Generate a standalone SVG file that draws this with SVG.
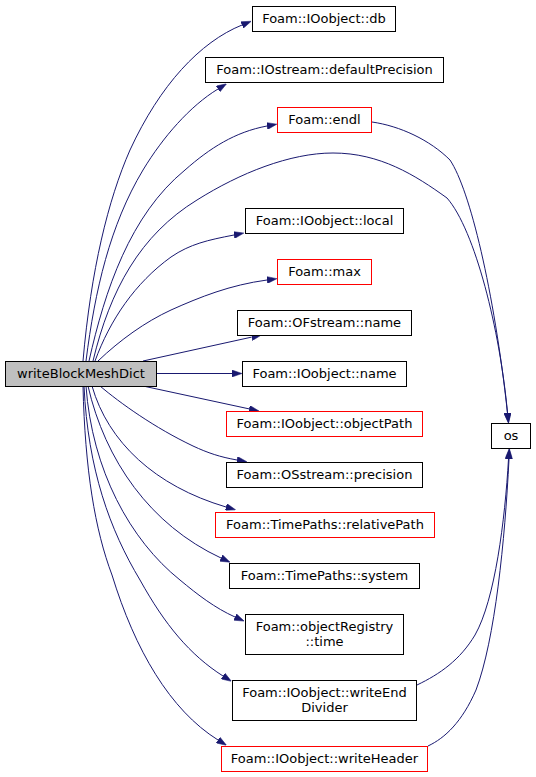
<svg xmlns="http://www.w3.org/2000/svg" width="536" height="777" viewBox="0 0 536 777">
<style>
.n rect{fill:#ffffff;stroke:#000000;stroke-width:1}
.n.r rect{stroke:#ff0000}
.n.g rect{fill:#bfbfbf}
.n text{font-family:"DejaVu Sans",sans-serif;font-size:13px;fill:#000000;text-anchor:middle}
.e path{fill:none;stroke:#191970;stroke-width:1;marker-end:url(#ah)}
</style>
<defs>
<marker id="ah" viewBox="0 0 10 7" refX="0" refY="3.5" markerWidth="10" markerHeight="7" markerUnits="userSpaceOnUse" orient="auto">
<path d="M0,0 L10,3.5 L0,7 Z" fill="#191970" stroke="#191970" stroke-width="0.5"/>
</marker>
</defs>
<rect x="0" y="0" width="536" height="777" fill="#ffffff"/>
<g id="edges" class="e">
<path d="M83,361 C91,270 108,200 130,150 C160,85 200,42 242,25"/>
<path d="M86,361 C95,290 110,225 143,170 C163,137 190,106 218,89"/>
<path d="M89,361 C105,290 130,215 185,170 C210,148 235,132 267,126"/>
<path d="M93,361 C110,290 140,235 197,200 C240,173 290,153 333,153 C380,153 415,175 447,198 C475,230 500,330 507.5,413"/>
<path d="M372,122 C400,126 430,140 450,160 C470,190 494,290 507.5,413"/>
<path d="M95,361 C110,320 135,283 171,257 C190,244 208,240 234,235"/>
<path d="M98,361 C120,340 145,322 171,310 C200,297 230,285 267,280"/>
<path d="M143,361 L251.7,337.1"/>
<path d="M157,373.5 L232,373.5"/>
<path d="M143,386 L249.2,408.9"/>
<path d="M100,386 C120,403 155,428 193,446 C208,453 220,457 237,460"/>
<path d="M92,386 C108,442 155,486 226,507"/>
<path d="M88,386 C105,460 150,525 221,558"/>
<path d="M86,386 C92,470 130,540 180,580 C198,595 215,608 235,617"/>
<path d="M84,386 C88,470 110,530 140,580 C165,625 190,655 223,676"/>
<path d="M83,386 C85,470 95,530 112,575 C135,650 170,710 218,740"/>
<path d="M417,685 C440,674 460,660 475,635 C495,600 505,520 508.5,459"/>
<path d="M428,746 C445,738 462,722 476,690 C495,640 505,540 509,459"/>
</g>
<g id="writeBlockMeshDict" class="n g"><rect x="5.5" y="361.5" width="151" height="25"/><text x="81" y="377.5">writeBlockMeshDict</text></g>
<g id="db" class="n"><rect x="252.5" y="6.5" width="143" height="25"/><text x="324" y="22.5">Foam::IOobject::db</text></g>
<g id="defaultPrecision" class="n"><rect x="205.5" y="57.5" width="238" height="25"/><text x="324.5" y="73.5">Foam::IOstream::defaultPrecision</text></g>
<g id="endl" class="n r"><rect x="277.5" y="107.5" width="94" height="25"/><text x="324.5" y="123.5">Foam::endl</text></g>
<g id="local" class="n"><rect x="245.5" y="208.5" width="158" height="25"/><text x="324.5" y="224.5">Foam::IOobject::local</text></g>
<g id="max" class="n r"><rect x="277.5" y="259.5" width="94" height="25"/><text x="324.5" y="275.5">Foam::max</text></g>
<g id="OFstream_name" class="n"><rect x="237.5" y="310.5" width="174" height="25"/><text x="324.5" y="326.5">Foam::OFstream::name</text></g>
<g id="IOobject_name" class="n"><rect x="242.5" y="361.5" width="164" height="25"/><text x="324.5" y="377.5">Foam::IOobject::name</text></g>
<g id="objectPath" class="n r"><rect x="226.5" y="411.5" width="196" height="25"/><text x="324.5" y="427.5">Foam::IOobject::objectPath</text></g>
<g id="os" class="n"><rect x="491.5" y="423.5" width="39" height="25"/><text x="511" y="439.5">os</text></g>
<g id="precision" class="n"><rect x="226.5" y="462.5" width="196" height="25"/><text x="324.5" y="478.5">Foam::OSstream::precision</text></g>
<g id="relativePath" class="n r"><rect x="215.5" y="512.5" width="219" height="25"/><text x="325" y="528.5">Foam::TimePaths::relativePath</text></g>
<g id="system" class="n"><rect x="229.5" y="563.5" width="190" height="25"/><text x="324.5" y="579.5">Foam::TimePaths::system</text></g>
<g id="time" class="n"><rect x="245.5" y="614.5" width="158" height="40"/><text x="324.5" y="630.5">Foam::objectRegistry</text><text x="324.5" y="645.5">::time</text></g>
<g id="writeEndDivider" class="n"><rect x="232.5" y="680.5" width="184" height="40"/><text x="324.5" y="696.5">Foam::IOobject::writeEnd</text><text x="324.5" y="711.5">Divider</text></g>
<g id="writeHeader" class="n r"><rect x="221.5" y="746.5" width="206" height="25"/><text x="324.5" y="762.5">Foam::IOobject::writeHeader</text></g>
</svg>
